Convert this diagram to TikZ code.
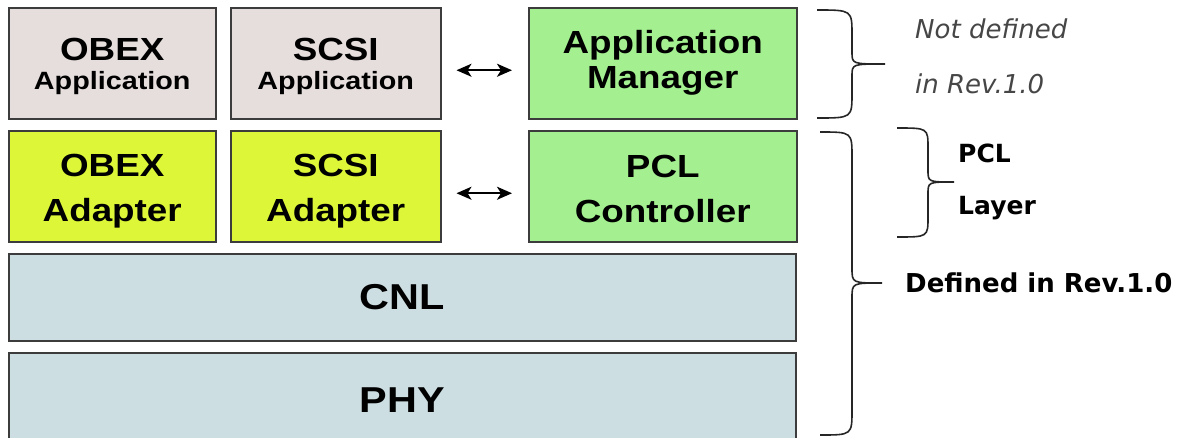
\documentclass[tikz,border=0pt]{standalone}
\usepackage{fontspec}
\setmainfont{Liberation Sans}
\newfontfamily\boxfont{Liberation Sans}[FakeStretch=1.15]
\newfontfamily\notefont{DejaVu Sans}
\usetikzlibrary{arrows.meta}

\definecolor{appgrey}{RGB}{230,222,220}
\definecolor{adaptyellow}{RGB}{221,247,56}
\definecolor{mgrgreen}{RGB}{164,240,144}
\definecolor{layerblue}{RGB}{204,222,226}
\definecolor{boxline}{RGB}{60,60,60}
\definecolor{notegrey}{RGB}{70,70,70}

\begin{document}
\begin{tikzpicture}[x=1pt, y=-1pt]

% --- Define reusable styles ---
\tikzset{
    layerbox/.style={
        draw=boxline, line width=1.5pt, inner sep=0pt, anchor=north west, align=center,
        font=\boxfont\bfseries\fontsize{32}{45}\selectfont
    },
    appbox/.style={layerbox, fill=appgrey, minimum height=111pt},
    adaptbox/.style={layerbox, fill=adaptyellow, minimum height=111pt},
    mgrbox/.style={layerbox, fill=mgrgreen, minimum height=111pt},
    basebox/.style={layerbox, fill=layerblue, minimum width=787pt, minimum height=87pt,
        font=\boxfont\bfseries\fontsize{36}{40}\selectfont},
    biarrow/.style={arrows={Stealth[length=15pt,width=13pt,inset=4pt]-Stealth[length=15pt,width=13pt,inset=4pt]},
        line width=1.8pt, shorten <=15pt, shorten >=16pt},
    curly/.style={line width=1.6pt, black!85},
    note/.style={anchor=base west, inner sep=0pt}
}
\def\small#1{{\fontsize{25}{25}\selectfont #1}}
\def\pad#1{\rule{0pt}{#1}} % hidden strut that pushes the text down

% Fix the page to the size of the picture
\useasboundingbox (0,0) rectangle (1187,437);

% 1. Upper row: applications and the manager
\node[appbox, minimum width=207pt] (obexapp) at (8,7) {\pad{28pt}OBEX\\[-16pt]\small{Application}};
\node[appbox, minimum width=210pt] (scsiapp) at (230,7) {\pad{28pt}SCSI\\[-16pt]\small{Application}};
\node[mgrbox, minimum width=268pt] (appmgr) at (528,7) {Application\\[-10pt]Manager};

% 2. Second row: adapters and the PCL controller
\node[adaptbox, minimum width=207pt] (obexadapt) at (8,130) {\pad{33pt}OBEX\\Adapter};
\node[adaptbox, minimum width=210pt] (scsiadapt) at (230,130) {\pad{33pt}SCSI\\Adapter};
\node[mgrbox, minimum width=268pt] (pclctrl) at (528,130) {\pad{27pt}PCL\\Controller};

% 3. The two full-width layers
\node[basebox] (cnl) at (8,253) {CNL};
\node[basebox, minimum height=95pt] (phy) at (8,352) {PHY};

% 4. Double arrows between the rows' left and right parts
\draw[biarrow] ([yshift=-7pt]scsiapp.east) -- ([yshift=-7pt]appmgr.west);
\draw[biarrow] ([yshift=-7pt]scsiadapt.east) -- ([yshift=-7pt]pclctrl.west);

% 5. Braces on the right
\draw[curly] (817,10) .. controls (852,10) .. (852,35) -- (852,52)
    .. controls (852,64) .. (885,64) .. controls (852,64) .. (852,76)
    -- (852,93) .. controls (852,118) .. (817,118);
\draw[curly] (820,132) .. controls (852,132) .. (852,157) -- (852,268)
    .. controls (852,283) .. (882,283) .. controls (852,283) .. (852,298)
    -- (852,410) .. controls (852,435) .. (820,435);
\draw[curly] (897,128) .. controls (928,128) .. (928,148) -- (928,170)
    .. controls (928,182) .. (954,182) .. controls (928,182) .. (928,194)
    -- (928,217) .. controls (928,237) .. (897,237);

% 6. Brace labels
\node[note, font=\notefont\itshape\fontsize{26}{26}\selectfont, text=notegrey] (notdef) at (915,38) {Not defined};
\node[note, font=\notefont\itshape\fontsize{26}{26}\selectfont, text=notegrey] (notrev) at (915,93) {in Rev.1.0};
\node[note, font=\notefont\bfseries\fontsize{25}{25}\selectfont] (pcl) at (958,162) {PCL};
\node[note, font=\notefont\bfseries\fontsize{25}{25}\selectfont] (layer) at (958,214) {Layer};
\node[note, font=\notefont\bfseries\fontsize{26}{26}\selectfont] (defrev) at (905,292) {Defined in Rev.1.0};

\end{tikzpicture}
\end{document}
